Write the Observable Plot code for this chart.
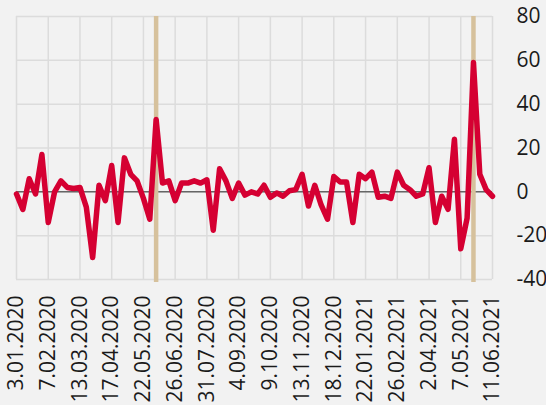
<!DOCTYPE html>
<html>
<head>
<meta charset="utf-8">
<script src="https://cdn.jsdelivr.net/npm/d3@7"></script>
<script src="https://cdn.jsdelivr.net/npm/@observablehq/plot@0.6"></script>
<style>
  html, body { margin: 0; padding: 0; background: #f2f2f2; }
  #chart { width: 546px; height: 405px; }
</style>
</head>
<body>
<div id="chart"></div>
<script>
// Weekly series starting 3.01.2020 (one value per week)
const startDate = "3.01.2020";
const values = [
  -1, -8, 6, -1, 17, -14, 0, 5, 2, 1.5,
  2, -7, -30, 3, -4, 12, -14, 15.5, 8, 5,
  -3, -12.5, 33, 4, 5, -4, 4, 4, 5, 4,
  5.5, -17.5, 10.5, 5, -3, 4, -1.5, 0, -1, 3,
  -2.5, -0.5, -2, 0.5, 1, 8, -6.5, 3, -6, -12.5,
  7, 4.5, 4.5, -14, 8, 6, 9, -2.5, -2, -3,
  9, 3, 1, -2, -1, 11, -14, -2, -8, 24,
  -26, -12, 59, 8, 1, -2
];
const tickLabels = [
  "3.01.2020", "7.02.2020", "13.03.2020", "17.04.2020", "22.05.2020",
  "26.06.2020", "31.07.2020", "4.09.2020", "9.10.2020", "13.11.2020",
  "18.12.2020", "22.01.2021", "26.02.2021", "2.04.2021", "7.05.2021",
  "11.06.2021"
];
const highlightLabels = ["5.06.2020", "21.05.2021"];
const yTicks = [-40, -20, 0, 20, 40, 60, 80];

const parse = d3.utcParse("%d.%m.%Y");
const start = parse(startDate);
const dates = values.map((_, i) => d3.utcDay.offset(start, 7 * i));
const tickDates = tickLabels.map(parse);
const labelMap = new Map(tickLabels.map(s => [+parse(s), s]));
const highlightDates = highlightLabels.map(parse);
const data = values.map((v, i) => ({date: dates[i], value: v}));

const chart = Plot.plot({
  width: 546,
  height: 405,
  marginLeft: 16,
  marginRight: 54,
  marginTop: 16,
  marginBottom: 126,
  style: {background: "#f2f2f2", fontFamily: "'Open Sans', sans-serif", fontSize: "21px", color: "#1a1a1a"},
  x: {type: "utc", domain: [tickDates[0], tickDates[tickDates.length - 1]], label: null},
  y: {domain: [-40, 80], label: null},
  marks: [
    Plot.ruleY(yTicks, {stroke: "#dcdcdc", strokeWidth: 1.5, strokeOpacity: 1}),
    Plot.ruleX(tickDates, {stroke: "#dcdcdc", strokeWidth: 1.5, strokeOpacity: 1}),
    Plot.ruleY([0], {stroke: "#666666", strokeWidth: 1.5}),
    Plot.ruleX(highlightDates, {stroke: "#d6c19c", strokeWidth: 4.5, insetBottom: -3}),
    Plot.lineY(data, {x: "date", y: "value", stroke: "#d50032", strokeWidth: 5.5, strokeLinejoin: "round", strokeLinecap: "round"}),
    Plot.axisY(yTicks, {anchor: "right", label: null, tickSize: 0, tickPadding: 24, textAnchor: "start", tickFormat: d => String(d), fontSize: 21, fill: "#1a1a1a"}),
    Plot.axisX(tickDates, {anchor: "bottom", label: null, tickSize: 0, tickPadding: 16, tickRotate: -90, tickFormat: d => labelMap.get(+d), fontSize: 21, fill: "#1a1a1a"})
  ]
});
document.getElementById("chart").appendChild(chart);
</script>
</body>
</html>
